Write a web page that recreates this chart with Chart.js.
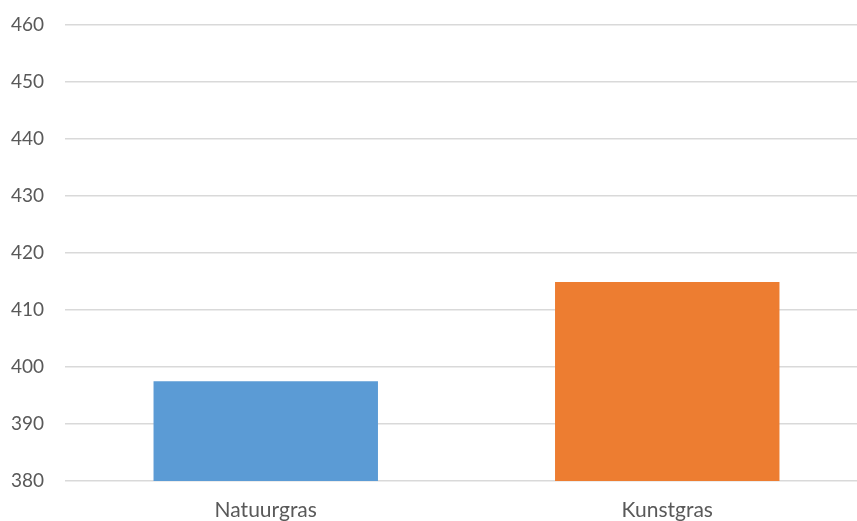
<!DOCTYPE html>
<html><head><meta charset="utf-8">
<script src="https://cdn.jsdelivr.net/npm/chart.js@4"></script>
<style>html,body{margin:0;padding:0;background:#fff;overflow:hidden;width:857px;height:521px}#w{width:868px;height:521px}</style>
</head><body><div id="w"><canvas id="c"></canvas></div>
<script>
const categories = ["Natuurgras", "Kunstgras"];
const values = [397.5, 414.9];
const barColors = ["#5b9bd5", "#ed7d31"];
const yMin = 380, yMax = 460, yStep = 10;

new Chart(document.getElementById('c'), {
  type: 'bar',
  data: { labels: categories, datasets: [{ data: values, backgroundColor: barColors, barPercentage: 0.559, categoryPercentage: 1 }] },
  options: {
    responsive: true, maintainAspectRatio: false, animation: false,
    layout: { padding: { top: 25, left: 0, right: 0, bottom: 0 } },
    plugins: { legend: { display: false }, tooltip: { enabled: false } },
    scales: {
      x: {
        grid: { display: false, drawTicks: false },
        border: { display: false },
        ticks: { color: '#595959', font: { family: 'Lato', size: 21 }, padding: 17 },
        afterFit: s => { s.height = 40; }
      },
      y: {
        min: yMin, max: yMax,
        grid: { color: '#d9d9d9', lineWidth: 1.5, drawTicks: false },
        border: { display: false },
        ticks: { stepSize: yStep, color: '#595959', font: { family: 'Lato', size: 19 }, padding: 21 },
        afterFit: s => { s.width = 65; s.paddingTop = 0; }
      }
    }
  }
});
</script></body></html>
